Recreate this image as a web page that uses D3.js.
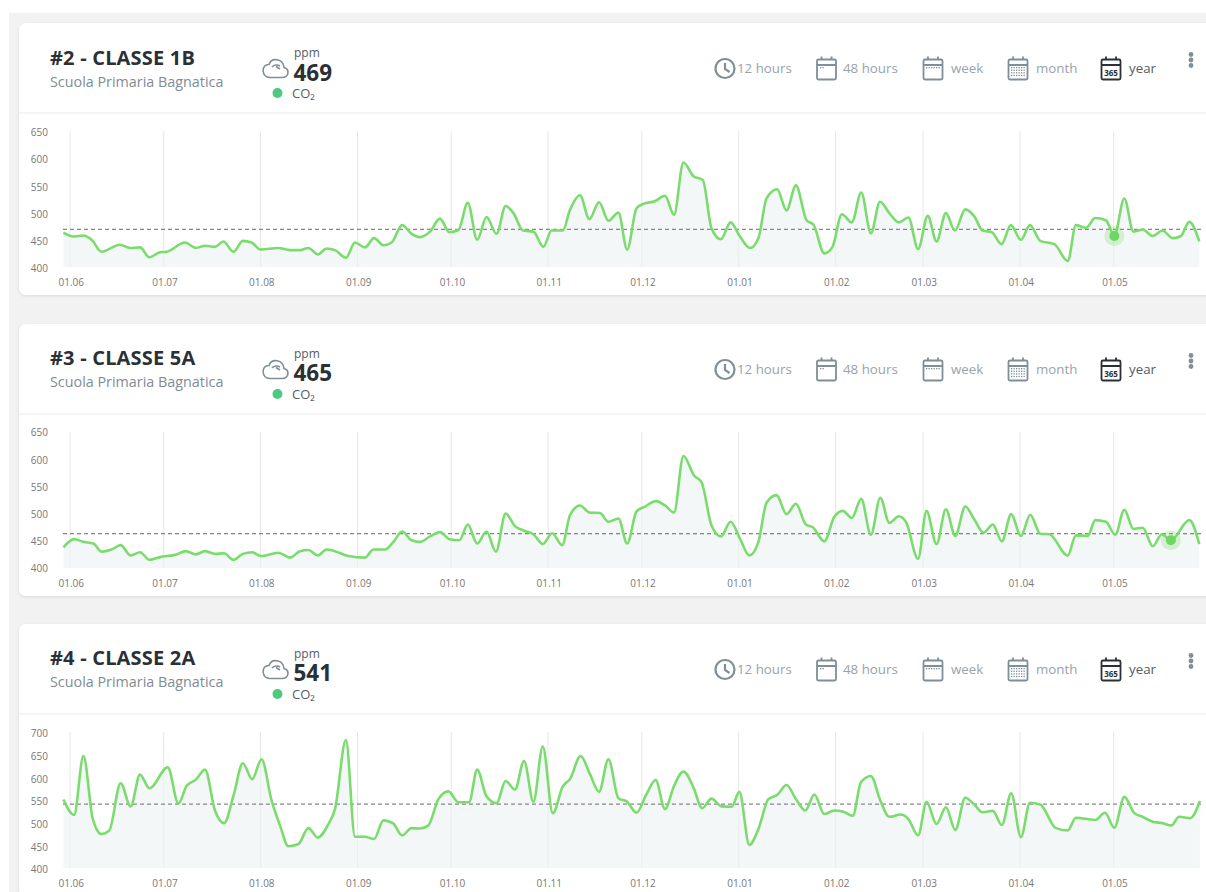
<!DOCTYPE html>
<html><head><meta charset="utf-8">
<script src="https://cdn.jsdelivr.net/npm/d3@7"></script>
<style>
html,body{margin:0;padding:0;background:#fff;overflow:hidden}
svg{display:block}
text{font-family:"Open Sans",sans-serif}
.axis path,.axis line{display:none}
.axis text{font-family:"Open Sans",sans-serif;font-size:10px;fill:#777}
</style></head><body>
<script>
// [days since 1 June 2020, ppm]
const series1 = [[-2.1,463],[1.1,456],[4.3,458],[6.9,450],[10.1,428],[16,441],[19.2,435],[22.4,436],[25.4,418],[28.8,427],[30.9,428],[36.8,445],[40.3,435],[43.2,439],[46.4,437],[49.1,447],[52.3,428],[55.3,448],[58.1,445],[61,432],[66.7,435],[70.4,431],[73.6,431],[76.3,435],[79.3,423],[82.1,434],[84.8,431],[88.3,417],[91.2,445],[94.4,436],[97.3,453],[100.3,440],[102.9,445],[106.3,477],[109.3,461],[112,455],[115.2,465],[118.4,489],[121.4,464],[124.3,468],[127.3,518],[130.3,450],[133.3,492],[136.5,461],[139.4,512],[141.9,499],[145,467],[148.3,465],[151.5,437],[154.1,467],[157.7,467],[160,505],[163.2,532],[166.2,488],[169.3,519],[172.3,485],[175.5,500],[178.3,432],[181.3,508],[183.5,516],[187.2,521],[190.4,531],[193.3,496],[196.3,592],[199.5,567],[202.5,560],[205.3,471],[208.3,451],[211.4,482],[214.4,456],[217.6,435],[220.3,453],[222.9,526],[226.3,543],[229.3,504],[232.3,550],[235.7,486],[237.9,478],[241.4,425],[244,437],[247,497],[250.2,482],[253.2,537],[256.3,462],[259.2,520],[262.2,499],[265.2,482],[268.3,491],[271.4,433],[274.5,494],[277.3,447],[280.3,499],[283.2,467],[286.5,506],[289.4,493],[292,467],[295,464],[298.1,442],[301.1,477],[304.3,450],[307.2,477],[310.5,448],[315,442],[319.3,411],[321.9,477],[325.1,472],[328.1,490],[331.5,486],[334.2,458],[337.4,526],[340.3,465],[343.3,469],[346.5,457],[349.6,467],[352.9,453],[355.5,457],[358.2,483],[361.4,447]];
const series2 = [[-2.1,438],[1.3,453],[4.3,448],[7.5,445],[10.1,430],[13.3,434],[16.2,442],[19.4,423],[22.4,429],[25.4,415],[28.8,420],[34.1,425],[37,431],[40.3,425],[43.2,431],[46.4,426],[49.3,427],[52.3,415],[55.3,426],[58.3,429],[61,422],[66.7,428],[70.4,419],[73.6,431],[76.3,433],[79.3,423],[82.1,434],[84.8,431],[89.1,422],[94.4,419],[97.1,434],[100.8,434],[103.5,448],[106.3,467],[109.3,451],[112,448],[115.2,458],[118.4,466],[121.4,453],[124.6,451],[127.3,480],[130.3,445],[133.3,467],[136.3,430],[139.4,500],[142.4,477],[145.1,469],[148.3,462],[151.3,444],[154.3,464],[157.5,442],[160,497],[163.2,515],[166.2,502],[169.6,501],[172.3,485],[175.5,491],[178.3,445],[181.3,504],[184,513],[187.5,523],[190.4,515],[193.3,502],[196.3,606],[199.7,570],[202.1,558],[205.3,478],[208.3,458],[211.4,485],[214.4,454],[217.4,423],[220.3,448],[222.9,520],[226.1,534],[229.3,499],[232.3,518],[235.5,480],[237.7,475],[241.4,449],[244.6,494],[247.3,505],[250.2,492],[253.2,527],[256.3,461],[259.3,529],[262.2,483],[265.2,495],[267.5,485],[271.4,417],[274.1,505],[277.3,444],[280.3,508],[283.3,459],[286.5,513],[289.4,489],[292.4,465],[295.3,480],[298.2,449],[301.2,499],[304.3,459],[307.3,498],[310.5,463],[313.4,462],[319.3,423],[321.9,460],[325.7,459],[328.1,488],[331.5,485],[334.5,461],[337.4,507],[340.3,472],[343.3,474],[346.5,440],[349.4,462],[352.3,451],[358.2,488],[361.4,444]];
const series3 = [[-2.1,551],[1.3,517],[4.3,647],[7.3,508],[10.1,475],[12.6,483],[16.2,587],[19.4,536],[22.4,606],[25.4,576],[31.3,622],[34.7,542],[37.3,581],[40.3,595],[43.2,617],[46.4,527],[49.3,499],[52.3,559],[55.3,631],[58.3,596],[61.3,640],[64.5,549],[67.2,494],[69.9,448],[73.1,453],[76.3,488],[79.3,467],[82.7,497],[84.8,530],[88.3,682],[91.2,469],[94.4,469],[97.3,464],[100.3,505],[103.3,499],[106.3,472],[109.3,488],[112,487],[114.7,494],[117.9,552],[121.1,569],[124.3,545],[127.7,545],[130.3,617],[133.3,558],[136.5,543],[139.4,592],[142.4,573],[145.3,636],[148.3,546],[151.3,668],[154.5,521],[157.7,580],[160,596],[163.4,647],[166.4,607],[169.3,568],[172.3,640],[175.5,554],[178.3,546],[181.3,522],[184.5,563],[187.4,594],[190.4,530],[193.3,581],[196.3,613],[199.5,578],[202.3,532],[205.3,553],[208.5,536],[211.7,535],[214.2,568],[217.4,451],[220.3,486],[223.5,552],[226.3,561],[229.3,583],[232.3,552],[235.3,527],[238.2,562],[241.4,519],[244.6,527],[247.5,524],[250.5,515],[253.1,589],[256.3,603],[259.2,551],[262.2,513],[265.9,518],[268.3,508],[271.4,472],[274.1,546],[277.3,497],[280.3,534],[283.3,484],[286.5,555],[289.4,540],[292,523],[295.3,526],[298.2,495],[301.2,565],[304.3,468],[307.2,544],[310.5,540],[315.5,488],[319.3,483],[321.9,511],[328.1,506],[331.2,522],[334.2,489],[337.4,557],[340.6,521],[343.5,512],[346.5,502],[349.6,499],[352.5,494],[354.9,513],[358.5,510],[361.6,548]];

const titles = ["#2 - CLASSE 1B","#3 - CLASSE 5A","#4 - CLASSE 2A"];
const subtitle = "Scuola Primaria Bagnatica";
const readings = [469,465,541];
const dashLevels = [469,463,541];
const markerDays = [334.2,352.3,null];
const markerVals = [457,451,null];
const yTicks = [[400,450,500,550,600,650],[400,450,500,550,600,650],[400,450,500,550,600,650,700]];
const yMax = [650,650,700];
const monthStarts = [[2020,5],[2020,6],[2020,7],[2020,8],[2020,9],[2020,10],[2020,11],[2021,0],[2021,1],[2021,2],[2021,3],[2021,4]];
const ranges = ["12 hours","48 hours","week","month","year"];
const allSeries = [series1,series2,series3];

const W=1206,H=892;
const cardTops=[23,324,624];
const svg=d3.select("body").append("svg").attr("width",W).attr("height",H);
svg.append("rect").attr("x",9).attr("y",13).attr("width",W).attr("height",H).attr("fill","#f2f2f2");

const defs=svg.append("defs");
const blur=defs.append("filter").attr("id","sh").attr("x","-2%").attr("y","-5%").attr("width","104%").attr("height","110%");
blur.append("feDropShadow").attr("dx",0).attr("dy",1).attr("stdDeviation",1.5).attr("flood-color","#000").attr("flood-opacity",.1);

const base=Date.UTC(2020,5,1);
const toDate=d=>new Date(base+d*864e5);
const x=d3.scaleUtc().domain([new Date(Date.UTC(2020,5,1)),new Date(Date.UTC(2021,4,1))]).range([70,1113.7]);
const fmt=d3.utcFormat("%d.%m");

const grey="#7f8e97",dark="#2b3036";
function calIcon(g,cx,col,kind){
  const i=g.append("g").attr("transform",`translate(${cx},0)`).attr("fill","none").attr("stroke",col).attr("stroke-width",1.8);
  i.append("rect").attr("x",-9.5).attr("y",-9).attr("width",19).attr("height",20).attr("rx",1.5);
  i.append("path").attr("d","M-9.5,-3.5H9.5M-5,-12V-8.5M5,-12V-8.5");
  const dot=(dx,dy)=>i.append("rect").attr("x",dx).attr("y",dy).attr("width",1.3).attr("height",1.3).attr("fill",col).attr("stroke","none");
  if(kind==="48"){dot(-6.5,-1.5);dot(-4,-1.5);}
  if(kind==="week"){d3.range(6).forEach(k=>dot(-7+k*2.5,-1.5));}
  if(kind==="month"){d3.range(4).forEach(r=>d3.range(6).forEach(k=>dot(-7+k*2.5,-1.5+r*2.6)));}
  if(kind==="year"){i.append("text").attr("x",0).attr("y",7).attr("text-anchor","middle").attr("font-size",8).attr("font-weight",700).attr("fill",col).attr("stroke","none").text("365");}
}

cardTops.forEach((top,idx)=>{
  const g=svg.append("g").attr("transform",`translate(0,${top})`);
  const hdy=idx===0?0:-0.6;
  g.append("rect").attr("x",19).attr("y",0).attr("width",W).attr("height",272).attr("rx",7).attr("fill","#fff").attr("filter","url(#sh)");
  g.append("line").attr("x1",19).attr("x2",W).attr("y1",90).attr("y2",90).attr("stroke","#e9eeee").attr("stroke-width",1.2);
  g.append("text").attr("x",50).attr("y",41.5+hdy).attr("font-size",20).attr("font-weight",700).attr("letter-spacing",.2).attr("fill",dark).text(titles[idx]);
  g.append("text").attr("x",50).attr("y",63.5+hdy).attr("font-size",14.35).attr("fill","#7f8c95").text(subtitle);
  // cloud
  g.append("path")
   .attr("d","M270,54.5 H282 C289,54.5 290,46 284,44.5 C283,36 272,33.5 269,41.5 C261,41 261,54.5 270,54.5 Z M272,44 C274,41.5 278,41.5 280,43 M276,43.5 L280,46")
   .attr("fill","none").attr("stroke",grey).attr("stroke-width",1.6);
  g.append("text").attr("x",294).attr("y",34).attr("font-size",12).attr("fill","#555c63").text("ppm");
  g.append("text").attr("x",293.5).attr("y",58+hdy).attr("font-size",22.5).attr("font-weight",700).attr("fill",dark).text(readings[idx]);
  g.append("circle").attr("cx",277.5).attr("cy",70).attr("r",5).attr("fill","#4dc980");
  g.append("text").attr("x",292).attr("y",74.5).attr("font-size",13).attr("fill","#555c63").text("CO₂");
  // range buttons
  const btn=g.append("g").attr("transform","translate(0,45.5)");
  const clock=btn.append("g").attr("transform","translate(725,0)").attr("fill","none").attr("stroke",grey).attr("stroke-width",2.2);
  clock.append("circle").attr("r",9.5);
  clock.append("path").attr("d","M0,-5.5V0.5L4.5,3.5");
  calIcon(btn,826.5,grey,"48");
  calIcon(btn,933,grey,"week");
  calIcon(btn,1018,grey,"month");
  calIcon(btn,1111,dark,"year");
  const tx=[737,843,951,1036,1129];
  ranges.forEach((r,k)=>btn.append("text").attr("x",tx[k]).attr("y",4.5).attr("font-size",13.3).attr("fill",k===4?"#555c63":"#98a3aa").text(r));
  [-14,-8.5,-3].forEach(dy=>btn.append("circle").attr("cx",1191).attr("cy",dy+0).attr("r",2.4).attr("fill",grey));

  // chart (coordinates relative to the card)
  const yBase=244, yTop=108;
  const y=d3.scaleLinear().domain([400,yMax[idx]]).range([yBase,yTop]);
  const data=allSeries[idx].map(d=>({date:toDate(d[0]),v:d[1]}));
  const months=monthStarts.map(m=>new Date(Date.UTC(m[0],m[1],1)));
  g.append("g").selectAll("line").data(months).join("line")
    .attr("x1",d=>x(d)).attr("x2",d=>x(d)).attr("y1",yTop).attr("y2",yBase).attr("stroke","#e6e6e6");
  const area=d3.area().x(d=>x(d.date)).y0(yBase).y1(d=>y(d.v)).curve(d3.curveMonotoneX);
  const line=d3.line().x(d=>x(d.date)).y(d=>y(d.v)).curve(d3.curveMonotoneX);
  g.append("path").datum(data).attr("d",area).attr("fill","#eef2f2").attr("fill-opacity",.62);
  g.append("line").attr("x1",63).attr("x2",1201).attr("y1",y(dashLevels[idx])).attr("y2",y(dashLevels[idx]))
    .attr("stroke",idx===1?"#666":"#888").attr("stroke-width",idx===1?1:1.2).attr("stroke-dasharray","4,3");
  g.append("path").datum(data).attr("d",line).attr("fill","none").attr("stroke","#7bdc6e").attr("stroke-width",2.6).attr("stroke-linejoin","round");
  if(markerDays[idx]!==null){
    const mx=x(toDate(markerDays[idx])),my=y(markerVals[idx]);
    g.append("circle").attr("cx",mx).attr("cy",my).attr("r",10).attr("fill","#6fd563").attr("fill-opacity",.25);
    g.append("circle").attr("cx",mx).attr("cy",my).attr("r",5).attr("fill","#6fd563");
  }
  const ya=d3.axisLeft(y).tickValues(yTicks[idx]).tickSize(0).tickPadding(0).tickFormat(d3.format("d"));
  g.append("g").attr("class","axis").attr("transform",`translate(48,${idx===1?0.7:1.5})`).call(ya);
  const xa=d3.axisBottom(x).tickValues(months).tickSize(0).tickPadding(0).tickFormat(fmt);
  g.append("g").attr("class","axis").attr("transform",`translate(0.7,${yBase+11.5})`).call(xa);
});
</script></body></html>
